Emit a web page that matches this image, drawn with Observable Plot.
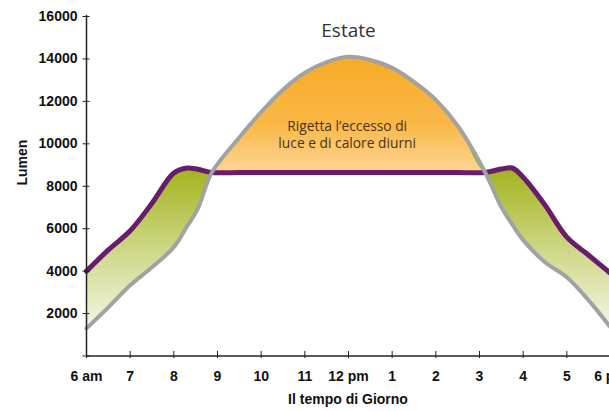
<!DOCTYPE html>
<html>
<head>
<meta charset="utf-8">
<script src="https://cdn.jsdelivr.net/npm/d3@7"></script>
<script src="https://cdn.jsdelivr.net/npm/@observablehq/plot@0.6"></script>
<style>
  html, body { margin: 0; padding: 0; background: #fff; overflow: hidden; }
  #chart svg { display: block; }
</style>
</head>
<body>
<div id="chart"></div>
<script>
// ---- data ----
const hours = [6, 6.5, 7, 7.5, 8, 8.3, 8.55, 8.87, 9.5, 10, 10.5, 11, 11.5, 12, 12.5, 13, 13.5, 14, 14.5, 15.13, 15.5, 15.75, 16, 16.5, 17, 17.5, 18];
const naturalLight = [1300, 2290, 3330, 4180, 5130, 6100, 6950, 8650, 10300, 11500, 12550, 13350, 13850, 14100, 13950, 13580, 12920, 12070, 10850, 8650, 7020, 6200, 5460, 4420, 3710, 2620, 1350];
const artificialLight = [4000, 5000, 5900, 7200, 8620, 8860, 8800, 8650, 8650, 8650, 8650, 8650, 8650, 8650, 8650, 8650, 8650, 8650, 8650, 8650, 8810, 8860, 8420, 7110, 5600, 4750, 3900];
const xTicks = [6, 7, 8, 9, 10, 11, 12, 13, 14, 15, 16, 17, 18];
const xTickLabels = ["6 am", "7", "8", "9", "10", "11", "12 pm", "1", "2", "3", "4", "5", "6 pm"];
const yTicks = [2000, 4000, 6000, 8000, 10000, 12000, 14000, 16000];
const yTickMarks = [0, 2000, 4000, 6000, 8000, 10000, 12000, 14000, 16000];
const titleText = "Estate";
const titleAt = {hour: 12, lumen: 15335};
const noteText = "Rigetta l\u2019eccesso di\nluce e di calore diurni";
const noteAt = {hour: 11.97, lumen: 10480};
const xLabel = "Il tempo di Giorno";
const yLabel = "Lumen";

const rows = hours.map((h, i) => ({h, gray: naturalLight[i], purple: artificialLight[i]}));

function gradients(index, scales) {
  const y = scales.y;
  const defs = d3.create("svg:defs");
  const g = defs.append("linearGradient").attr("id", "gradGreen")
    .attr("gradientUnits", "userSpaceOnUse")
    .attr("x1", 0).attr("x2", 0).attr("y1", y(8900)).attr("y2", y(1300));
  g.append("stop").attr("offset", 0).attr("stop-color", "#a2b31a");
  g.append("stop").attr("offset", 0.5).attr("stop-color", "#cdd683");
  g.append("stop").attr("offset", 1).attr("stop-color", "#f4f6e6");
  const o = defs.append("linearGradient").attr("id", "gradOrange")
    .attr("gradientUnits", "userSpaceOnUse")
    .attr("x1", 0).attr("x2", 0).attr("y1", y(14200)).attr("y2", y(8650));
  o.append("stop").attr("offset", 0).attr("stop-color", "#f7aa25");
  o.append("stop").attr("offset", 0.6).attr("stop-color", "#fab847");
  o.append("stop").attr("offset", 1).attr("stop-color", "#fdd596");
  return defs.node();
}

const curve = "catmull-rom";

const chart = Plot.plot({
  width: 609,
  height: 411,
  marginLeft: 86,
  marginRight: 0,
  marginTop: 15,
  marginBottom: 56,
  style: {fontFamily: "Liberation Sans, Arial, sans-serif", fontSize: "14px", fontWeight: "bold", color: "#111", background: "#fff"},
  x: {domain: [6, 18], range: [86, 610]},
  y: {domain: [0, 16000], range: [355.5, 16]},
  marks: [
    gradients,
    Plot.areaY(rows, {x: "h", y1: "gray", y2: d => Math.max(d.gray, d.purple), curve, fill: "url(#gradGreen)"}),
    Plot.areaY(rows, {x: "h", y1: "purple", y2: d => Math.max(d.gray, d.purple), curve, fill: "url(#gradOrange)"}),
    Plot.line(rows, {x: "h", y: "purple", stroke: "#6a1c6c", strokeWidth: 5, curve}),
    Plot.line(rows, {x: "h", y: "gray", stroke: "#a2a2a2", strokeWidth: 4, curve}),
    Plot.ruleX([6], {stroke: "#222", strokeWidth: 1.5}),
    Plot.ruleY([0], {stroke: "#222", strokeWidth: 1.5}),
    Plot.axisY({ticks: yTickMarks, tickSize: 7, dx: 3.5, tickFormat: () => "", label: null, stroke: "#222"}),
    Plot.axisY({ticks: yTicks, tickSize: 0, tickPadding: 9, tickFormat: d => String(d), label: null, fill: "#111"}),
    Plot.axisX({ticks: xTicks, tickSize: 7, dy: -4, tickFormat: () => "", label: null, stroke: "#222"}),
    Plot.axisX({ticks: xTicks, tickSize: 0, tickPadding: 16, tickFormat: d => xTickLabels[xTicks.indexOf(d)], label: null, fill: "#111"}),
    Plot.text([yLabel], {frameAnchor: "left", dx: -64, rotate: -90, text: d => d, fill: "#111"}),
    Plot.text([xLabel], {frameAnchor: "bottom", dy: 48, text: d => d, fill: "#111"}),
    Plot.text([titleText], {x: titleAt.hour, y: titleAt.lumen, text: d => d, fontSize: 19, fontWeight: "normal", fontFamily: "Open Sans", fill: "#333"}),
    Plot.text([noteText], {x: noteAt.hour, y: noteAt.lumen, text: d => d, fontSize: 13.8, lineHeight: 1.25, fontWeight: "normal", fontFamily: "Open Sans", fill: "#4a3418"})
  ]
});
document.getElementById("chart").appendChild(chart);
</script>
</body>
</html>
